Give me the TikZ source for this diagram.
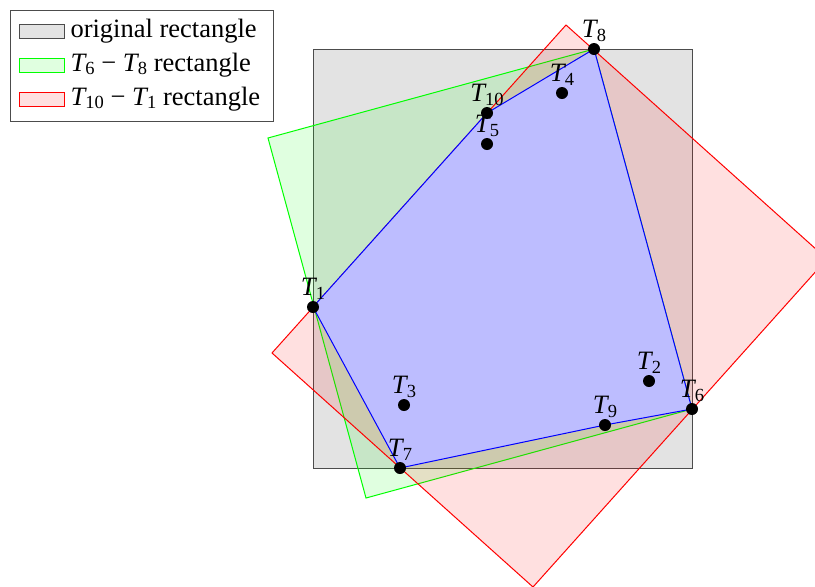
\documentclass[tikz,border=0pt]{standalone}
\usepackage{fontspec}
\setmainfont{Liberation Serif}
\newcommand{\Tl}[1]{\textit{T}\kern-0.05em\raisebox{-0.32ex}{\fontsize{18.5}{20}\selectfont #1}}
\begin{document}
\begin{tikzpicture}[x=1pt,y=-1pt,font=\fontsize{26.5}{30}\selectfont,line width=1pt,
  origrect/.style={draw=black!70,fill=black!11},
  greenrect/.style={draw=green,fill=green,fill opacity=0.12},
  redrect/.style={draw=red,fill=red,fill opacity=0.12},
  hull/.style={draw=blue,fill=blue!26},
  dot/.style={circle,fill=black,draw=none,inner sep=0pt,minimum size=12pt},
  ptlabel/.style={anchor=south,inner sep=1pt},
  legtext/.style={anchor=base west,inner sep=0pt}]
\useasboundingbox (0,0) rectangle (815,587);
\clip (0,0) rectangle (815,587);
% points
\coordinate (T1) at (313,307);
\coordinate (T2) at (649,381);
\coordinate (T3) at (404,405);
\coordinate (T4) at (562,93);
\coordinate (T5) at (487,144);
\coordinate (T6) at (692,409);
\coordinate (T7) at (400,468);
\coordinate (T8) at (594,49);
\coordinate (T9) at (605,425);
\coordinate (T10) at (487,113);
% rectangles
\coordinate (g1) at (268,138);
\coordinate (g4) at (366,498);
\coordinate (r1) at (272,353);
\coordinate (r2) at (566,25);
\coordinate (r3) at (827,259);
\coordinate (r4) at (533,587);
\draw[origrect] (313,49) rectangle (692,468);
\draw[greenrect] (g1) -- (T8) -- (T6) -- (g4) -- cycle;
\draw[redrect] (r1) -- (r2) -- (r3) -- (r4) -- cycle;
\draw[hull] (T1) -- (T10) -- (T8) -- (T6) -- (T9) -- (T7) -- cycle;
% dots and labels
\foreach \i in {1,...,10}{
  \node[dot] (d\i) at (T\i) {};
  \node[ptlabel] (l\i) at ([yshift=6pt]T\i) {\Tl{\i}};
}
% legend
\node[draw=black!70,fill=white,minimum width=263pt,minimum height=111pt,anchor=north west,inner sep=0pt] (legend) at (10,10) {};
\draw[origrect] (19,24) rectangle (64,38);
\draw[greenrect] (19,58) rectangle (64,72);
\draw[redrect] (19,92) rectangle (64,106);
\node[legtext] (lt1) at (70,37) {original rectangle};
\node[legtext] (lt2) at (70,71) {\Tl{6} − \Tl{8} rectangle};
\node[legtext] (lt3) at (70,105) {\Tl{10} − \Tl{1} rectangle};
\end{tikzpicture}
\end{document}
